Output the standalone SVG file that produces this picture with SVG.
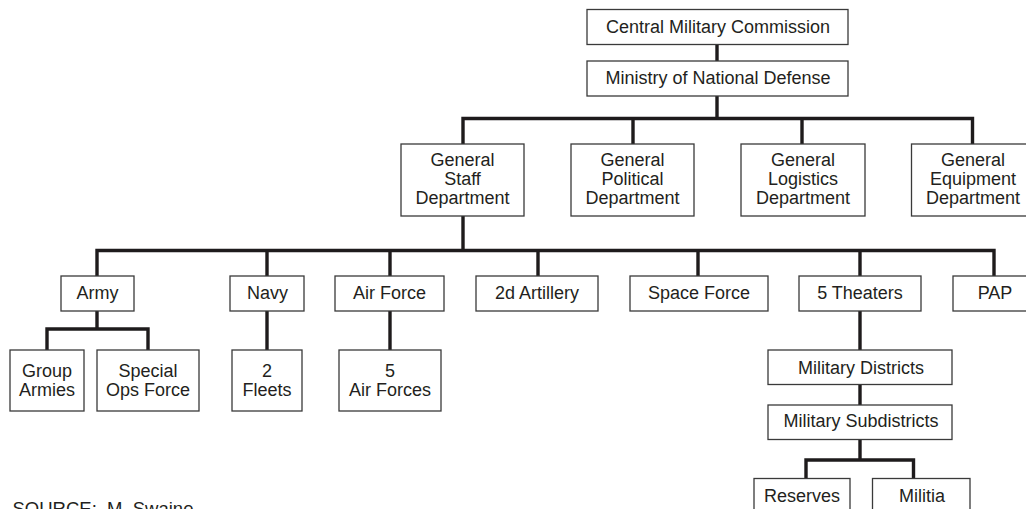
<svg xmlns="http://www.w3.org/2000/svg" width="1026" height="509" viewBox="0 0 1026 509">
<style>
.box{fill:#fff;stroke:#3a3a3a;stroke-width:1.3}
.t{font-family:"Liberation Sans",Arial,Helvetica,sans-serif;font-size:18px;fill:#231f20;text-anchor:middle}
.c{fill:none;stroke:#1e1b1c;stroke-width:3.4;stroke-linecap:butt;stroke-linejoin:miter}
.src{font-family:"Liberation Sans",Arial,Helvetica,sans-serif;font-size:18.5px;fill:#231f20;white-space:pre}
</style>
<rect width="1026" height="509" fill="#fff"/>
<g id="connectors">
<path class="c" d="M717 44.5V61"/>
<path class="c" d="M717 96V118.5M463 144V118.5H972.5V144M633 118.5V144M802 118.5V144"/>
<path class="c" d="M463 216V250.5M97 276V250.5H994V276M267 250.5V276M390 250.5V276M538 250.5V276M698 250.5V276M860 250.5V276"/>
<path class="c" d="M97 311V329M47 350V329H148V350"/>
<path class="c" d="M267 311V350"/>
<path class="c" d="M390 311V350"/>
<path class="c" d="M860 311V350M860 384.5V405"/>
<path class="c" d="M860 439.5V460M806 478.5V460H913.5V478.5"/>
</g>
<g id="cmc"><rect class="box" x="587" y="9.5" width="261" height="35"/><text class="t" x="718" y="32.5">Central Military Commission</text></g>
<g id="mnd"><rect class="box" x="587" y="61" width="261" height="35"/><text class="t" x="718" y="83.5">Ministry of National Defense</text></g>
<g id="gsd"><rect class="box" x="401" y="144" width="123" height="72"/><text class="t" x="462.5" y="166">General</text><text class="t" x="462.5" y="185">Staff</text><text class="t" x="462.5" y="204">Department</text></g>
<g id="gpd"><rect class="box" x="571" y="144" width="123" height="72"/><text class="t" x="632.5" y="166">General</text><text class="t" x="632.5" y="185">Political</text><text class="t" x="632.5" y="204">Department</text></g>
<g id="gld"><rect class="box" x="741" y="144" width="124" height="72"/><text class="t" x="803" y="166">General</text><text class="t" x="803" y="185">Logistics</text><text class="t" x="803" y="204">Department</text></g>
<g id="ged"><rect class="box" x="911.5" y="144" width="125" height="72"/><text class="t" x="973" y="166">General</text><text class="t" x="973" y="185">Equipment</text><text class="t" x="973" y="204">Department</text></g>
<g id="army"><rect class="box" x="61" y="276" width="73" height="35"/><text class="t" x="97.5" y="299">Army</text></g>
<g id="navy"><rect class="box" x="230" y="276" width="74" height="35"/><text class="t" x="267.5" y="299">Navy</text></g>
<g id="airforce"><rect class="box" x="335" y="276" width="109" height="35"/><text class="t" x="389.5" y="299">Air Force</text></g>
<g id="artillery"><rect class="box" x="476" y="276" width="122" height="35"/><text class="t" x="537" y="299">2d Artillery</text></g>
<g id="spaceforce"><rect class="box" x="630" y="276" width="138" height="35"/><text class="t" x="699" y="299">Space Force</text></g>
<g id="theaters"><rect class="box" x="799" y="276" width="122" height="35"/><text class="t" x="860" y="299">5 Theaters</text></g>
<g id="pap"><rect class="box" x="953" y="276" width="83" height="35"/><text class="t" x="995" y="299">PAP</text></g>
<g id="grouparmies"><rect class="box" x="10" y="350" width="74" height="61"/><text class="t" x="47" y="377">Group</text><text class="t" x="47" y="396">Armies</text></g>
<g id="specialops"><rect class="box" x="97" y="350" width="102" height="61"/><text class="t" x="148" y="377">Special</text><text class="t" x="148" y="396">Ops Force</text></g>
<g id="fleets"><rect class="box" x="232" y="350" width="70" height="61"/><text class="t" x="267" y="377">2</text><text class="t" x="267" y="396">Fleets</text></g>
<g id="airforces"><rect class="box" x="339" y="350" width="102" height="61"/><text class="t" x="390" y="377">5</text><text class="t" x="390" y="396">Air Forces</text></g>
<g id="districts"><rect class="box" x="768" y="350" width="184" height="34.5"/><text class="t" x="861" y="373.5">Military Districts</text></g>
<g id="subdistricts"><rect class="box" x="768" y="405" width="184" height="34.5"/><text class="t" x="861" y="427">Military Subdistricts</text></g>
<g id="reserves"><rect class="box" x="754" y="478.5" width="96" height="45"/><text class="t" x="802" y="502">Reserves</text></g>
<g id="militia"><rect class="box" x="872.5" y="478.5" width="97.5" height="45"/><text class="t" x="922" y="502">Militia</text></g>
<text class="src" x="12.5" y="514.5">SOURCE:  M. Swaine</text>
</svg>
